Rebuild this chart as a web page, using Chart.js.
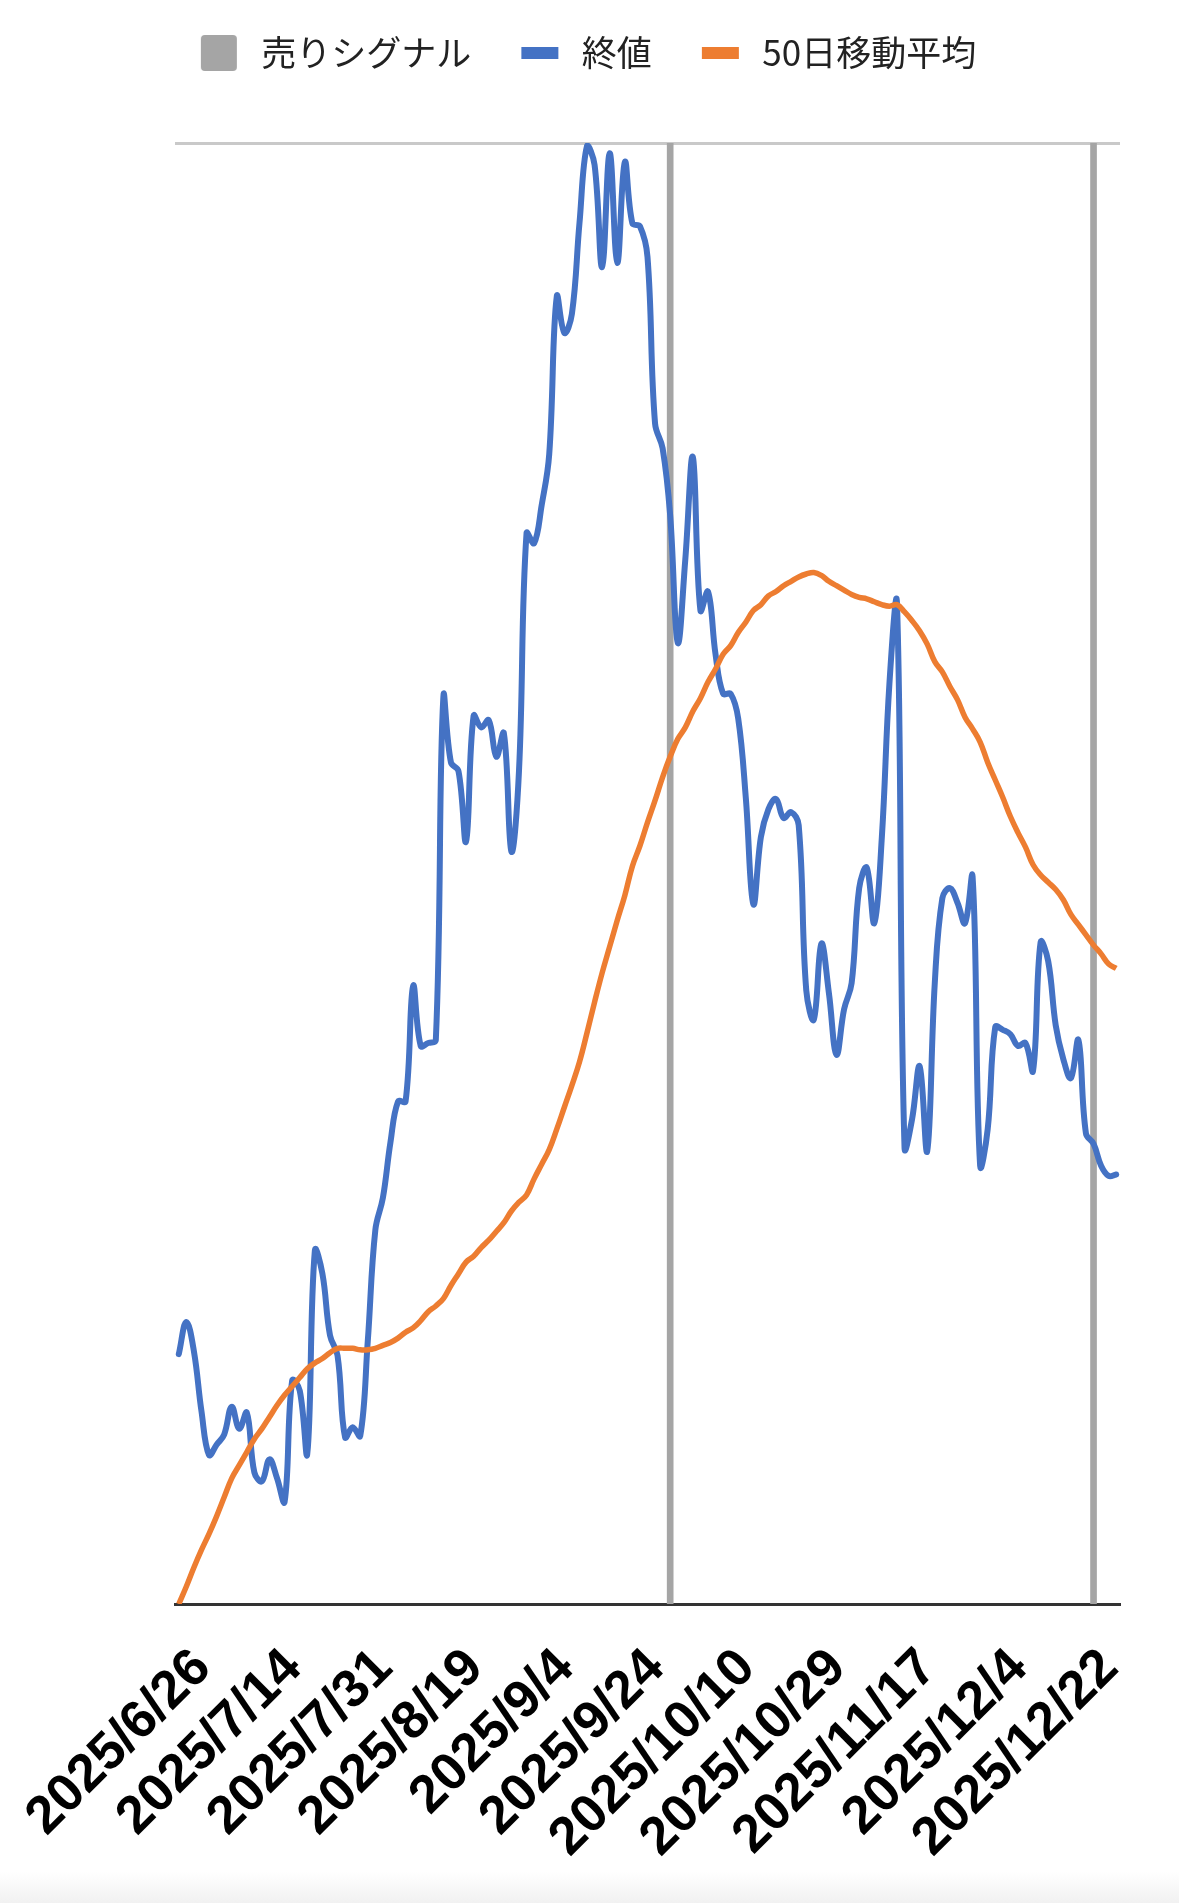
<!DOCTYPE html>
<html lang="ja">
<head>
<meta charset="utf-8">
<title>売りシグナル・終値・50日移動平均</title>
<script src="https://cdn.jsdelivr.net/npm/chart.js@4.4.1/dist/chart.umd.min.js"></script>
<style>
  html, body { margin: 0; padding: 0; background: #fff; }
  #wrap {
    position: relative;
    width: 1179px;
    height: 1903px;
    background: linear-gradient(to bottom, #fff 0, #fff 1872px, #f1f1f1 1903px);
  }
</style>
</head>
<body>
<div id="wrap"><canvas id="chart"></canvas></div>
<script>
// ── Data (y in % of the plotted range) ──────────────────────────────────────
const dates = [
  '2025/6/26', '2025/6/27', '2025/6/30',
  '2025/7/1', '2025/7/2', '2025/7/3', '2025/7/4', '2025/7/7', '2025/7/8', '2025/7/9', '2025/7/10', '2025/7/11',
  '2025/7/14', '2025/7/15', '2025/7/16', '2025/7/17', '2025/7/18', '2025/7/22', '2025/7/23', '2025/7/24',
  '2025/7/25', '2025/7/28', '2025/7/29', '2025/7/30', '2025/7/31',
  '2025/8/1', '2025/8/4', '2025/8/5', '2025/8/6', '2025/8/7', '2025/8/8', '2025/8/12', '2025/8/13', '2025/8/14',
  '2025/8/15', '2025/8/18', '2025/8/19', '2025/8/20', '2025/8/21', '2025/8/22', '2025/8/25', '2025/8/26',
  '2025/8/27', '2025/8/28', '2025/8/29',
  '2025/9/1', '2025/9/2', '2025/9/3', '2025/9/4', '2025/9/5', '2025/9/8', '2025/9/9', '2025/9/10', '2025/9/11',
  '2025/9/12', '2025/9/16', '2025/9/17', '2025/9/18', '2025/9/19', '2025/9/22', '2025/9/24', '2025/9/25',
  '2025/9/26', '2025/9/29', '2025/9/30',
  '2025/10/1', '2025/10/2', '2025/10/3', '2025/10/6', '2025/10/7', '2025/10/8', '2025/10/9', '2025/10/10',
  '2025/10/14', '2025/10/15', '2025/10/16', '2025/10/17', '2025/10/20', '2025/10/21', '2025/10/22', '2025/10/23',
  '2025/10/24', '2025/10/27', '2025/10/28', '2025/10/29', '2025/10/30', '2025/10/31',
  '2025/11/4', '2025/11/5', '2025/11/6', '2025/11/7', '2025/11/10', '2025/11/11', '2025/11/12', '2025/11/13',
  '2025/11/14', '2025/11/17', '2025/11/18', '2025/11/19', '2025/11/20', '2025/11/21', '2025/11/25', '2025/11/26',
  '2025/11/27', '2025/11/28',
  '2025/12/1', '2025/12/2', '2025/12/3', '2025/12/4', '2025/12/5', '2025/12/8', '2025/12/9', '2025/12/10',
  '2025/12/11', '2025/12/12', '2025/12/15', '2025/12/16', '2025/12/17', '2025/12/18', '2025/12/19', '2025/12/22',
  '2025/12/23', '2025/12/24', '2025/12/25', '2025/12/26',
];

const closePrices = [
  17.1, 19.3, 17.3, 13.2, 10.2, 10.9, 11.6, 13.5, 12.0, 13.1,
   9.0,  8.4,  9.9,  8.6,  7.0, 15.3, 14.6, 10.3, 24.2, 22.6,
  18.4, 17.0, 11.4, 12.1, 11.5, 18.0, 25.6, 27.8, 31.6, 34.4,
  34.4, 42.3, 38.2, 38.4, 38.6, 62.1, 57.6, 57.0, 52.2, 60.8,
  60.0, 60.5, 58.0, 59.6, 51.5, 57.0, 73.3, 72.6, 75.2, 78.7,
  89.5, 87.0, 88.3, 94.5, 99.8, 98.5, 91.5, 99.3, 91.8, 98.7,
  94.5, 94.3, 92.2, 80.8, 79.1, 74.5, 65.8, 71.5, 78.5, 68.0,
  69.3, 65.0, 62.3, 62.3, 60.6, 55.2, 47.9, 52.5, 54.4, 55.1,
  53.8, 54.2, 53.3, 42.0, 40.0, 45.2, 41.8, 37.6, 40.7, 42.5,
  49.0, 50.4, 46.6, 52.5, 63.0, 68.5, 31.2, 33.2, 36.8, 31.0,
  42.5, 48.3, 49.0, 48.0, 46.6, 49.8, 30.0, 32.5, 39.5, 39.3,
  39.0, 38.2, 38.4, 36.5, 45.3, 44.0, 39.6, 37.3, 36.0, 38.6,
  32.2, 31.5, 30.0, 29.3, 29.4,
];

const movingAvg50 = [
   0.0,  1.2,  2.5,  3.7,  4.8,  6.0,  7.3,  8.6,  9.5, 10.4,
  11.3, 12.0, 12.8, 13.6, 14.3, 14.9, 15.5, 16.1, 16.5, 16.8,
  17.2, 17.5, 17.5, 17.5, 17.4, 17.4, 17.5, 17.7, 17.9, 18.2,
  18.6, 18.9, 19.4, 20.0, 20.4, 20.9, 21.8, 22.6, 23.4, 23.8,
  24.4, 24.9, 25.5, 26.1, 26.9, 27.5, 28.0, 29.1, 30.1, 31.1,
  32.5, 34.0, 35.5, 37.1, 39.1, 41.2, 43.2, 45.0, 46.8, 48.5,
  50.5, 51.9, 53.5, 55.0, 56.6, 58.0, 59.2, 60.0, 61.1, 62.0,
  63.1, 64.0, 65.0, 65.6, 66.5, 67.2, 68.0, 68.4, 69.0, 69.3,
  69.7, 70.0, 70.3, 70.5, 70.6, 70.4, 70.0, 69.7, 69.4, 69.1,
  68.9, 68.8, 68.6, 68.4, 68.3, 68.4, 67.9, 67.3, 66.6, 65.7,
  64.5, 63.8, 62.8, 61.9, 60.7, 59.9, 59.0, 57.6, 56.4, 55.2,
  53.9, 52.8, 51.8, 50.6, 49.9, 49.4, 48.9, 48.2, 47.2, 46.5,
  45.8, 45.1, 44.5, 43.8, 43.5,
];

const sellSignalDates = ['2025/10/1', '2025/12/23'];
const labelEvery = 12;

// ── Layout (pixels) ──────────────────────────────────────────────────────────
const CANVAS_H    = 1903;
const PLOT_LEFT   = 175;
const PLOT_TOP    = 143;
const PLOT_BOTTOM = 1604;
const LEGEND_TOP  = 15.5;
const PAD_RIGHT   = 32;
const Y2_WIDTH    = 27;

const sellSignal = dates.map((d) => (sellSignalDates.includes(d) ? 1 : null));

// Legend markers drawn as small canvases (gray square, short line bars).
function legendMarker(color, w, h, radius) {
    const c = document.createElement('canvas');
    c.width = 73;
    c.height = 36;
    const ctx = c.getContext('2d');
    ctx.fillStyle = color;
    ctx.beginPath();
    ctx.roundRect(30, (36 - h) / 2, w, h, radius);
    ctx.fill();
    return c;
}
const markers = [
    legendMarker('#a5a5a5', 36, 36, 4),
    legendMarker('#4472c4', 37, 12, 0),
    legendMarker('#ed7d31', 37, 12, 0),
];

// Leave the gap between the legend and the plot.
const legendSpacer = {
    id: 'legendSpacer',
    beforeLayout(chart) {
        const legend = chart.legend;
        if (!legend || legend._spaced) return;
        const fit = legend.fit;
        legend.fit = function () {
            fit.call(this);
            this.height = PLOT_TOP - LEGEND_TOP;
        };
        legend._spaced = true;
    },
};

new Chart(document.getElementById('chart'), {
    type: 'line',
    data: {
        labels: dates,
        datasets: [
            {
                type: 'bar',
                label: '売りシグナル',
                data: sellSignal,
                yAxisID: 'y2',
                backgroundColor: '#a5a5a5',
                barThickness: 6,
                order: 3,
            },
            {
                label: '終値',
                data: closePrices,
                yAxisID: 'y',
                borderColor: '#4472c4',
                borderWidth: 6,
                borderJoinStyle: 'round',
                borderCapStyle: 'round',
                pointRadius: 0,
                tension: 0.4,
                order: 2,
            },
            {
                label: '50日移動平均',
                data: movingAvg50,
                yAxisID: 'y',
                borderColor: '#ed7d31',
                borderWidth: 5.5,
                borderJoinStyle: 'round',
                pointRadius: 0,
                tension: 0.4,
                order: 1,
            },
        ],
    },
    options: {
        responsive: true,
        maintainAspectRatio: false,
        devicePixelRatio: 1,
        animation: false,
        events: [],
        layout: { padding: { top: LEGEND_TOP, right: PAD_RIGHT, left: 0, bottom: 0 } },
        scales: {
            x: {
                offset: true,
                grid: { display: false, drawTicks: false },
                border: { display: true, color: '#333333', width: 3 },
                ticks: {
                    autoSkip: false,
                    minRotation: 45,
                    maxRotation: 45,
                    padding: 33,
                    labelOffset: 24,
                    color: '#000000',
                    font: { family: "'Liberation Sans', Arial, sans-serif", size: 53, weight: 'bold' },
                    callback: (value, index) => (index % labelEvery === 0 ? dates[index] : ''),
                },
                afterFit(scale) {
                    scale.height = CANVAS_H - PLOT_BOTTOM;
                    scale.paddingLeft = 0;
                    scale.paddingRight = 0;
                },
            },
            y: {
                min: 0,
                max: 100,
                ticks: { display: false, stepSize: 100 },
                grid: {
                    drawTicks: false,
                    lineWidth: 3,
                    color: (c) => (c.tick && c.tick.value === 100 ? '#c9c9c9' : 'rgba(0,0,0,0)'),
                },
                border: { display: false },
                afterFit(scale) { scale.width = PLOT_LEFT; },
            },
            y2: {
                position: 'right',
                min: 0,
                max: 1,
                ticks: { display: false },
                grid: { display: false, drawTicks: false },
                border: { display: false },
                afterFit(scale) { scale.width = Y2_WIDTH; },
            },
        },
        plugins: {
            tooltip: { enabled: false },
            legend: {
                position: 'top',
                labels: {
                    usePointStyle: true,
                    pointStyleWidth: 73,
                    padding: 20,
                    color: '#222222',
                    font: { family: "'Noto Sans CJK JP', 'Noto Sans', sans-serif", size: 35 },
                    generateLabels: (chart) => chart.data.datasets.map((ds, i) => ({
                        text: ds.label,
                        pointStyle: markers[i],
                        fillStyle: 'rgba(0,0,0,0)',
                        strokeStyle: 'rgba(0,0,0,0)',
                        fontColor: '#222222',
                        lineWidth: 0,
                        hidden: false,
                        datasetIndex: i,
                    })),
                },
            },
        },
    },
    plugins: [legendSpacer],
});
</script>
</body>
</html>
